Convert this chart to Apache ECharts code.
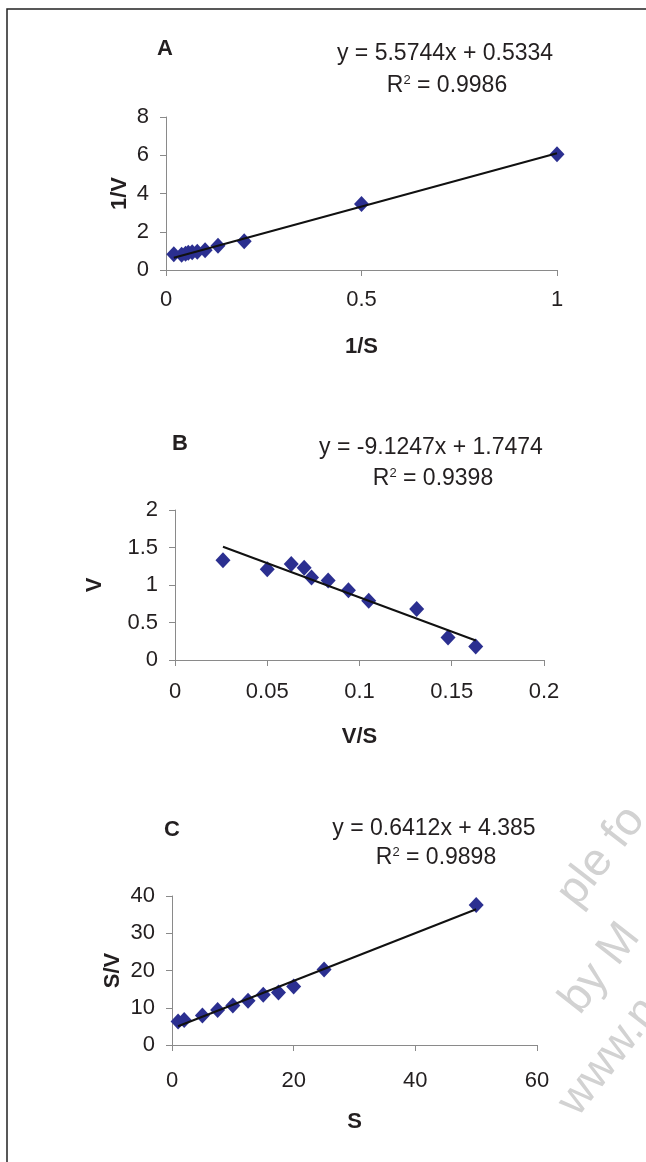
<!DOCTYPE html>
<html>
<head>
<meta charset="utf-8">
<script src="https://cdn.jsdelivr.net/npm/echarts@6/dist/echarts.min.js"></script>
<style>
  html, body { margin: 0; padding: 0; background: #fff; }
  #chart { width: 646px; height: 1162px; }
</style>
</head>
<body>
<div id="chart"></div>
<script>
// panel A: Lineweaver-Burk
const invS = [1, 0.5, 0.2, 0.133, 0.1, 0.08, 0.067, 0.057, 0.05, 0.04, 0.02]
const invV = [6.05, 3.45, 1.5, 1.27, 1.03, 0.95, 0.93, 0.9, 0.85, 0.8, 0.82]
const trendA = [[0.02, 0.645], [1, 6.108]]

// panel B: Eadie-Hofstee
const vOverS = [0.026, 0.05, 0.063, 0.07, 0.074, 0.083, 0.094, 0.105, 0.131, 0.148, 0.163]
const vVals = [1.33, 1.21, 1.28, 1.23, 1.1, 1.06, 0.93, 0.79, 0.68, 0.3, 0.18]
const trendB = [[0.026, 1.51], [0.163, 0.26]]

// panel C: Hanes-Woolf
const sVals = [1, 2, 5, 7.5, 10, 12.5, 15, 17.5, 20, 25, 50]
const sOverV = [6.3, 6.7, 7.9, 9.4, 10.6, 11.9, 13.5, 14.1, 15.7, 20.3, 37.6]
const trendC = [[1, 5.03], [50, 36.45]]

const panels = ['A', 'B', 'C']
const equations = ['y = 5.5744x + 0.5334', 'y = -9.1247x + 1.7474', 'y = 0.6412x + 4.385']
const rSquared = ['0.9986', '0.9398', '0.9898']

const FONT = '"Liberation Sans", Arial, sans-serif'
const TXT = '#231f20'
const MARK = '#2b2f90'

const chart = echarts.init(document.getElementById('chart'), null, { renderer: 'canvas' })

function pairs(xs, ys) {
  return xs.map((x, i) => [x, ys[i]])
}

function xAxis(idx, max, interval, name, margin) {
  return {
    gridIndex: idx, type: 'value', min: 0, max, interval,
    name, nameLocation: 'middle', nameGap: 66, nameMoveOverlap: false,
    nameTextStyle: { fontFamily: FONT, fontSize: 22, fontWeight: 'bold', color: TXT },
    axisLine: { show: true, onZero: false, lineStyle: { color: '#8a8a8a', width: 1 } },
    axisTick: { show: true, length: 6, lineStyle: { color: '#8a8a8a' } },
    axisLabel: { margin, fontFamily: FONT, fontSize: 22, color: TXT },
    splitLine: { show: false },
  }
}

function yAxis(idx, max, interval, name, gap) {
  return {
    gridIndex: idx, type: 'value', min: 0, max, interval,
    name, nameLocation: 'middle', nameGap: gap, nameMoveOverlap: false,
    nameTextStyle: { fontFamily: FONT, fontSize: 22, fontWeight: 'bold', color: TXT },
    axisLine: { show: true, onZero: false, lineStyle: { color: '#8a8a8a', width: 1 } },
    axisTick: { show: true, length: 6, lineStyle: { color: '#8a8a8a' } },
    axisLabel: { margin: 17, fontFamily: FONT, fontSize: 22, color: TXT },
    splitLine: { show: false },
  }
}

function scatter(idx, data) {
  return {
    type: 'scatter', xAxisIndex: idx, yAxisIndex: idx, data,
    symbol: 'diamond', symbolSize: [15, 16],
    itemStyle: { color: MARK, opacity: 1 }, z: 2,
  }
}

function trend(idx, data) {
  return {
    type: 'line', xAxisIndex: idx, yAxisIndex: idx, data,
    showSymbol: false, symbol: 'none',
    lineStyle: { color: '#111', width: 2 }, z: 3,
  }
}

// text positions: [title x, title y, eq x, eq y, r2 y]
const textPos = [
  [165, 49, 445, 54, 86],
  [180, 444, 431, 448, 479],
  [172, 830, 434, 829, 858],
]

const graphics = []
panels.forEach((p, i) => {
  const [tx, ty, ex, ey, ry] = textPos[i]
  graphics.push({
    type: 'text', x: tx, y: ty,
    style: { text: p, font: `bold 22px ${FONT}`, fill: TXT, align: 'center', verticalAlign: 'middle' },
  })
  graphics.push({
    type: 'text', x: ex, y: ey,
    style: { text: equations[i], font: `23px ${FONT}`, fill: TXT, align: 'center', verticalAlign: 'middle' },
  })
  graphics.push({
    type: 'text', x: ex + 2, y: ry,
    style: {
      text: `R{sup|2} = ${rSquared[i]}`, font: `23px ${FONT}`, fill: TXT,
      align: 'center', verticalAlign: 'middle',
      rich: { sup: { fontSize: 13, fontFamily: FONT, fill: TXT, verticalAlign: 'top', padding: [0, 0, 11, 0] } },
    },
  })
})

// frame
graphics.push({
  type: 'polyline',
  shape: { points: [[7, 1162], [7, 9], [646, 9]] },
  style: { stroke: '#222', lineWidth: 1.5, fill: null },
})

// watermark fragments at the right edge
const wm = [['ple fo', 585, 915], ['by M', 588, 1022], ['www.n', 586, 1124]]
wm.forEach(([t, x, y]) => {
  graphics.push({
    type: 'text', x, y, rotation: 0.91,
    style: { text: t, font: `46px ${FONT}`, fill: '#d2d2d2', align: 'left', verticalAlign: 'bottom' },
    z: -1,
  })
})

chart.setOption({
  backgroundColor: '#fff',
  animation: false,
  grid: [
    { left: 166, top: 117, width: 391, height: 153 },
    { left: 175, top: 510, width: 369, height: 150 },
    { left: 172, top: 896, width: 365, height: 149 },
  ],
  xAxis: [
    xAxis(0, 1, 0.5, '1/S', 19),
    xAxis(1, 0.2, 0.05, 'V/S', 21),
    xAxis(2, 60, 20, 'S', 25),
  ],
  yAxis: [
    yAxis(0, 8, 2, '1/V', 35),
    yAxis(1, 2, 0.5, 'V', 69),
    yAxis(2, 40, 10, 'S/V', 48),
  ],
  series: [
    scatter(0, pairs(invS, invV)),
    trend(0, trendA),
    scatter(1, pairs(vOverS, vVals)),
    trend(1, trendB),
    scatter(2, pairs(sVals, sOverV)),
    trend(2, trendC),
  ],
  graphic: graphics,
})
</script>
</body>
</html>
